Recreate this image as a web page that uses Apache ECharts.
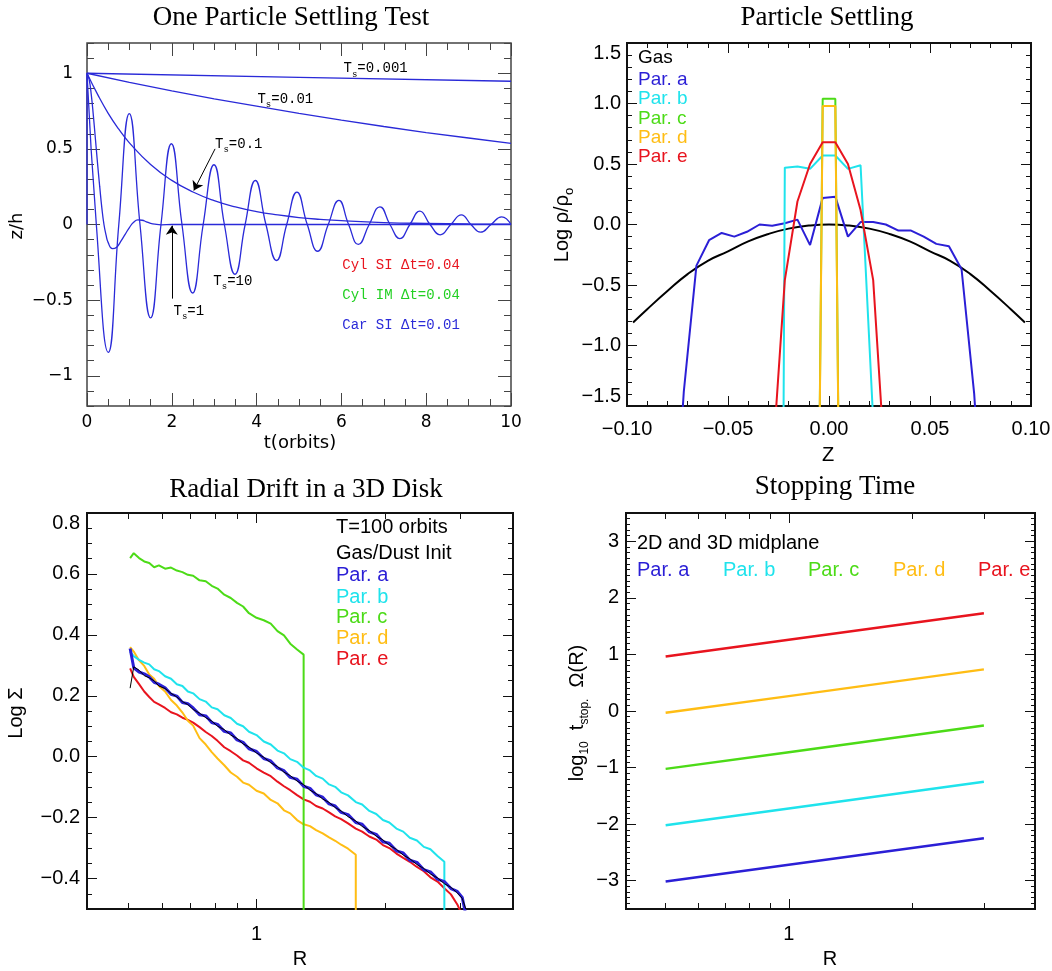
<!DOCTYPE html>
<html><head><meta charset="utf-8">
<script src="https://cdn.jsdelivr.net/npm/echarts@6/dist/echarts.min.js"></script>
<style>html,body{margin:0;padding:0;background:#fff}#c{width:1052px;height:971px}</style>
</head><body><div id="c"></div>
<script>
// ---------------- Panel 1 : One Particle Settling Test ----------------
const p1Ts0001 = [[0,1],[5,0.973],[10,0.947]];
const p1Ts001 = [[0,1],[1,0.94],[2,0.883],[3,0.83],[4,0.782],[5,0.735],[6,0.69],[7,0.648],[8,0.608],[9,0.572],[10,0.537]];
const p1Ts01 = [[0,1],[0.25,0.86],[0.5,0.735],[0.75,0.63],[1,0.54],[1.5,0.397],[2,0.292],[2.5,0.215],[3,0.158],[3.5,0.116],[4,0.085],[4.5,0.063],[5,0.046],[5.5,0.034],[6,0.025],[7,0.013],[8,0.007],[9,0.004],[10,0.002]];
const p1Ts1 = [[0,1],[0.05,0.96],[0.1,0.86],[0.15,0.72],[0.2,0.56],[0.25,0.4],[0.3,0.25],[0.35,0.11],[0.4,0.0],[0.45,-0.07],[0.5,-0.12],[0.6,-0.16],[0.7,-0.15],[0.8,-0.11],[0.9,-0.065],[1.0,-0.02],[1.1,0.015],[1.2,0.03],[1.3,0.028],[1.4,0.018],[1.5,0.008],[1.6,0.002],[1.75,-0.002],[2.0,0],[10,0]];
const p1Ts10 = [[0,1],[0.22,0],[0.503,-0.845],[0.75,0],[0.998,0.733],[1.25,0],[1.50,-0.618],[1.745,0],[1.99,0.534],[2.24,0],[2.49,-0.453],[2.74,0],[2.995,0.395],[3.24,0],[3.49,-0.329],[3.73,0],[3.97,0.291],[4.22,0],[4.47,-0.238],[4.71,0],[4.95,0.214],[5.195,0],[5.44,-0.177],[5.69,0],[5.94,0.159],[6.17,0],[6.40,-0.132],[6.655,0],[6.91,0.117],[7.145,0],[7.38,-0.093],[7.615,0],[7.85,0.088],[8.09,0],[8.33,-0.068],[8.58,0],[8.83,0.064],[9.055,0],[9.28,-0.051],[9.53,0],[9.78,0.051],[10,0]];
const p1Edge = [[0,1],[0,0]];
const p1XTicks = [0,2,4,6,8,10];
const p1YTicks = [-1,-0.5,0,0.5,1];
const p1Notes = [
  {t:6.05, z:1.03, text:'{n|T}{s|s}{n|=0.001}', color:'#000'},
  {t:4.02, z:0.826, text:'{n|T}{s|s}{n|=0.01}', color:'#000'},
  {t:3.02, z:0.53, text:'{n|T}{s|s}{n|=0.1}', color:'#000'},
  {t:2.98, z:-0.377, text:'{n|T}{s|s}{n|=10}', color:'#000'},
  {t:2.04, z:-0.574, text:'{n|T}{s|s}{n|=1}', color:'#000'},
  {t:6.02, z:-0.272, text:'{n|Cyl SI \u0394t=0.04}', color:'#e8141e'},
  {t:6.02, z:-0.47, text:'{n|Cyl IM \u0394t=0.04}', color:'#22d022'},
  {t:6.02, z:-0.669, text:'{n|Car SI \u0394t=0.01}', color:'#2a2ad8'}
];
const p1Arrows = [[[3.02,0.50],[2.52,0.225]], [[2.0,-0.49],[2.0,-0.008]]];

// ---------------- Panel 2 : Particle Settling ----------------
const p2Gas = [[-0.097,-0.81],[-0.09,-0.70],[-0.08,-0.55],[-0.07,-0.41],[-0.06,-0.30],[-0.05,-0.222],[-0.04,-0.14],[-0.03,-0.078],[-0.02,-0.034],[-0.01,-0.009],[0,0],[0.01,-0.009],[0.02,-0.034],[0.03,-0.078],[0.04,-0.14],[0.05,-0.222],[0.06,-0.30],[0.07,-0.41],[0.08,-0.55],[0.09,-0.70],[0.097,-0.81]];
const p2ParA = [[-0.078125,-3.0],[-0.071875,-1.38],[-0.065625,-0.34],[-0.059375,-0.13],[-0.053125,-0.07],[-0.046875,-0.10],[-0.040625,-0.06],[-0.034375,0.0],[-0.028125,-0.01],[-0.021875,0.01],[-0.015625,0.04],[-0.009375,-0.17],[-0.003125,0.22],[0.003125,0.23],[0.009375,-0.10],[0.015625,0.02],[0.021875,0.02],[0.028125,0.0],[0.034375,-0.05],[0.040625,-0.05],[0.046875,-0.10],[0.053125,-0.16],[0.059375,-0.18],[0.065625,-0.37],[0.071875,-1.40],[0.078125,-3.0]];
const p2ParB = [[-0.028125,-20],[-0.021875,0.47],[-0.015625,0.48],[-0.009375,0.46],[-0.003125,0.57],[0.003125,0.57],[0.009375,0.46],[0.015625,0.49],[0.021875,-1.62]];
const p2ParC = [[-0.009375,-10],[-0.003125,1.04],[0.003125,1.04],[0.009375,-10]];
const p2ParD = [[-0.009375,-10],[-0.003125,0.98],[0.003125,0.98],[0.009375,-10]];
const p2ParE = [[-0.028125,-2.0],[-0.021875,-0.46],[-0.015625,0.19],[-0.009375,0.50],[-0.003125,0.68],[0.003125,0.68],[0.009375,0.50],[0.015625,0.12],[0.021875,-0.46],[0.028125,-2.1]];
const p2XTicks = [-0.1,-0.05,0,0.05,0.1];
const p2YTicks = [-1.5,-1,-0.5,0,0.5,1,1.5];

// ---------------- Panel 3 : Radial Drift in a 3D Disk ----------------
const p3R = [0.505,0.515,0.53,0.545,0.56,0.575,0.59,0.61,0.63,0.65,0.67,0.69,0.71,0.735,0.76,0.785,0.81,0.84,0.87,0.90,0.93,0.96,1.00,1.04,1.08,1.12,1.16,1.20,1.245,1.29,1.335,1.38,1.43,1.48,1.53,1.58,1.64,1.71,1.77,1.84,1.91,1.98,2.05,2.13,2.21,2.29,2.38,2.47,2.56,2.66,2.76,2.86,2.96,3.04,3.10];
const p3Gas = [0.225,0.295,0.284,0.266,0.259,0.249,0.232,0.224,0.208,0.196,0.181,0.171,0.155,0.143,0.128,0.117,0.100,0.089,0.071,0.060,0.042,0.032,0.012,-0.002,-0.020,-0.032,-0.051,-0.062,-0.080,-0.092,-0.110,-0.121,-0.139,-0.150,-0.167,-0.178,-0.197,-0.211,-0.229,-0.242,-0.261,-0.273,-0.291,-0.304,-0.323,-0.335,-0.354,-0.367,-0.385,-0.398,-0.417,-0.429,-0.447,-0.465,-0.50];
const p3ParA = [0.355,0.292,0.278,0.272,0.262,0.244,0.238,0.226,0.205,0.199,0.178,0.174,0.160,0.138,0.134,0.112,0.106,0.083,0.078,0.055,0.047,0.026,0.017,-0.006,-0.014,-0.037,-0.046,-0.068,-0.074,-0.097,-0.104,-0.125,-0.133,-0.155,-0.162,-0.183,-0.190,-0.216,-0.222,-0.247,-0.255,-0.279,-0.284,-0.309,-0.316,-0.340,-0.347,-0.371,-0.378,-0.402,-0.410,-0.433,-0.442,-0.462,-0.52];
const p3ParB = [0.345,0.330,0.318,0.309,0.303,0.287,0.281,0.264,0.256,0.238,0.232,0.214,0.208,0.189,0.181,0.162,0.156,0.136,0.127,0.108,0.100,0.082,0.071,0.050,0.040,0.020,0.011,-0.008,-0.017,-0.036,-0.045,-0.063,-0.072,-0.091,-0.099,-0.117,-0.127,-0.149,-0.157,-0.178,-0.188,-0.208,-0.216,-0.236,-0.246,-0.266,-0.275,-0.296,-0.304,-0.326,-0.345,null,null,null,null];
const p3ParC = [0.652,0.668,0.652,0.641,0.636,0.622,0.628,0.617,0.621,0.611,0.606,0.597,0.594,0.579,0.576,0.561,0.552,0.532,0.521,0.505,0.493,0.471,0.456,0.448,0.437,0.412,0.398,0.371,0.352,0.335,null,null,null,null,null,null,null,null,null,null,null,null,null,null,null,null,null,null,null,null,null,null,null,null,null];
const p3ParD = [0.360,0.345,0.316,0.298,0.270,0.256,0.232,0.214,0.186,0.168,0.145,0.118,0.102,0.061,0.040,0.015,-0.006,-0.028,-0.052,-0.066,-0.085,-0.092,-0.112,-0.121,-0.142,-0.153,-0.176,-0.186,-0.208,-0.222,-0.228,-0.241,-0.252,-0.265,-0.276,-0.289,-0.302,-0.322,null,null,null,null,null,null,null,null,null,null,null,null,null,null,null,null,null];
const p3ParE = [0.290,0.262,0.238,0.214,0.196,0.180,0.172,0.160,0.146,0.139,0.128,0.121,0.112,0.097,0.081,0.068,0.052,0.031,0.018,0.004,-0.012,-0.020,-0.038,-0.052,-0.064,-0.082,-0.097,-0.110,-0.126,-0.140,-0.148,-0.162,-0.170,-0.183,-0.196,-0.205,-0.219,-0.236,-0.246,-0.262,-0.272,-0.290,-0.300,-0.318,-0.332,-0.345,-0.362,-0.376,-0.396,-0.410,-0.432,-0.452,-0.485,-0.52,null];
const p3Drop = {b:2.76, c:1.29, d:1.71};
const p3XTicks = [0.5,0.6,0.7,0.8,0.9,1,2,3];
const p3XLabels = [1];
const p3YTicks = [-0.4,-0.2,0,0.2,0.4,0.6,0.8];

// ---------------- Panel 4 : Stopping Time ----------------
const p4R = [0.5, 1, 3];
const p4ParA = [-3.012,-2.717,-2.249];
const p4ParB = [-2.02,-1.725,-1.252];
const p4ParC = [-1.023,-0.728,-0.255];
const p4ParD = [-0.032,0.263,0.736];
const p4ParE = [0.965,1.26,1.727];
const p4YTicks = [-3,-2,-1,0,1,2,3];

// ---------------- styling ----------------
const COL = {blue:'#2b1fd6', cyan:'#1fe3ec', green:'#4cdb17', orange:'#ffbd14', red:'#e8141e', black:'#000'};
const P1BLUE = '#2a2ad8';
const F1 = 'DejaVu Sans', FS = 'Liberation Sans', FSERIF = 'Liberation Serif', FMONO = 'Liberation Mono';

function minusFix(d){ return v => (v < -1e-9 ? '\u2212' : '') + Math.abs(v).toFixed(d); }
function minusPlain(v){ return (v < -1e-9 ? '\u2212' : '') + String(Math.abs(Math.round(v*1000)/1000)); }
function steps(a, b, n){ const r=[]; for (let i=0;i<=n;i++) r.push(Math.round((a+(b-a)*i/n)*1e6)/1e6); return r; }

const xAxes = [], yAxes = [];
function axisSet(list, dim, gi, c) {
  const mainIdx = list.length;
  const main = {type: c.type || 'value', gridIndex: gi, min: c.min, max: c.max, show: false,
    axisLine:{show:false,onZero:false}, splitLine:{show:false}};
  if (c.type === 'log') main.logBase = 10;
  list.push(main);
  const posA = dim === 'x' ? 'bottom' : 'left', posB = dim === 'x' ? 'top' : 'right';
  const hmin = c.hmin !== undefined ? c.hmin : c.min, hmax = c.hmax !== undefined ? c.hmax : c.max;
  const mk = (pos, vals, len, label) => ({
    type:'value', gridIndex:gi, position:pos, min:hmin, max:hmax, offset:0,
    axisLine:{show:false, onZero:false}, splitLine:{show:false}, splitArea:{show:false},
    minorTick:{show:false},
    axisTick:{show:true, inside:true, length:len, customValues:vals, lineStyle:{color:c.tickColor||'#111', width:1}},
    axisLabel: label ? Object.assign({show:true, customValues:c.labelVals, showMinLabel:true, showMaxLabel:true, hideOverlap:false, color:'#000'}, label) : {show:false}
  });
  list.push(mk(posA, c.major, c.majLen, c.label));
  list.push(mk(posA, c.minor, c.minLen, null));
  list.push(mk(posB, c.major, c.majLen, null));
  list.push(mk(posB, c.minor, c.minLen, null));
  return mainIdx;
}

const LOG04 = Math.log10(0.4), LOG4 = Math.log10(4);
const x1 = axisSet(xAxes,'x',0,{min:0,max:10,major:p1XTicks,minor:steps(0,10,20),majLen:13,minLen:7,tickColor:'#444',labelVals:p1XTicks,
  label:{fontFamily:F1,fontSize:17,margin:8,formatter:minusPlain}});
const y1 = axisSet(yAxes,'y',0,{min:-1.2,max:1.2,major:p1YTicks,minor:steps(-1.2,1.2,24),majLen:13,minLen:7,tickColor:'#444',labelVals:p1YTicks,
  label:{fontFamily:F1,fontSize:17,margin:14,formatter:minusPlain}});
const x2 = axisSet(xAxes,'x',1,{min:-0.1,max:0.1,major:p2XTicks,minor:steps(-0.1,0.1,20),majLen:10,minLen:5,labelVals:p2XTicks,
  label:{fontFamily:FS,fontSize:20,margin:13,formatter:minusFix(2)}});
const y2 = axisSet(yAxes,'y',1,{min:-1.5,max:1.5,major:p2YTicks,minor:steps(-1.5,1.5,30),majLen:10,minLen:5,labelVals:p2YTicks,
  label:{fontFamily:FS,fontSize:20,margin:6,formatter:minusFix(1),verticalAlignMinLabel:'bottom',verticalAlignMaxLabel:'top'}});
const x3 = axisSet(xAxes,'x',2,{type:'log',min:0.4,max:4,hmin:LOG04,hmax:LOG4,major:p3XLabels.map(Math.log10),minor:p3XTicks.map(Math.log10),majLen:10,minLen:6,
  labelVals:p3XLabels.map(Math.log10),label:{fontFamily:FS,fontSize:20,margin:15,formatter:v=>String(Math.round(Math.pow(10,v)*100)/100)}});
const y3 = axisSet(yAxes,'y',2,{min:-0.5,max:0.8,major:p3YTicks,minor:steps(-0.5,0.8,26),majLen:10,minLen:5,labelVals:p3YTicks,
  label:{fontFamily:FS,fontSize:20,margin:7,formatter:minusFix(1),verticalAlignMaxLabel:'top'}});
const x4 = axisSet(xAxes,'x',3,{type:'log',min:0.4,max:4,hmin:LOG04,hmax:LOG4,major:p3XLabels.map(Math.log10),minor:p3XTicks.map(Math.log10),majLen:10,minLen:6,
  labelVals:p3XLabels.map(Math.log10),label:{fontFamily:FS,fontSize:20,margin:15,formatter:v=>String(Math.round(Math.pow(10,v)*100)/100)}});
const y4 = axisSet(yAxes,'y',3,{min:-3.5,max:3.5,major:p4YTicks,minor:steps(-3.5,3.5,70),majLen:10,minLen:4,labelVals:p4YTicks,
  label:{fontFamily:FS,fontSize:20,margin:7,formatter:minusPlain}});

function line(data, color, xi, yi, width, extra) {
  return Object.assign({type:'line', data, xAxisIndex:xi, yAxisIndex:yi, showSymbol:false, symbol:'none',
    lineStyle:{color, width}, itemStyle:{color}, silent:true, clip:true, animation:false, connectNulls:false}, extra||{});
}
function p3Series(vals, drop) {
  const d = [];
  p3R.forEach((r,i) => { if (vals[i] !== null) d.push([r, vals[i]]); });
  if (drop) d.push([drop, -0.6]);
  return d;
}

const series = [];
const s1 = line(p1Ts0001, P1BLUE, x1, y1, 1.3);
s1.markPoint = {silent:true, animation:false, data: p1Notes.map(n => ({coord:[n.t,n.z], symbol:'circle', symbolSize:0,
  label:{show:true, position:'right', distance:0, formatter:n.text,
    rich:{n:{fontFamily:FMONO,fontSize:14,color:n.color,lineHeight:20,verticalAlign:'middle'},
          s:{fontFamily:FMONO,fontSize:9,color:n.color,lineHeight:9,verticalAlign:'bottom'}}}}))};
s1.markLine = {silent:true, animation:false, symbol:['none','arrow'], symbolSize:9, label:{show:false},
  lineStyle:{color:'#000', width:1, type:'solid'}, data: p1Arrows.map(a => [{coord:a[0]},{coord:a[1]}])};
series.push(s1);
series.push(line(p1Ts001, P1BLUE, x1, y1, 1.3));
series.push(line(p1Ts01, P1BLUE, x1, y1, 1.3, {smooth:true}));
series.push(line(p1Ts1, P1BLUE, x1, y1, 1.3, {smooth:true}));
series.push(line(p1Ts10, P1BLUE, x1, y1, 1.3, {smooth:true}));
series.push(line(p1Edge, P1BLUE, x1, y1, 1.3));
series.push(line(p2Gas, COL.black, x2, y2, 2, {smooth:true}));
series.push(line(p2ParA, COL.blue, x2, y2, 2));
series.push(line(p2ParB, COL.cyan, x2, y2, 2));
series.push(line(p2ParC, COL.green, x2, y2, 2));
series.push(line(p2ParD, COL.orange, x2, y2, 2));
series.push(line(p2ParE, COL.red, x2, y2, 2));
series.push(line(p3Series(p3ParE), COL.red, x3, y3, 2));
series.push(line(p3Series(p3ParD, p3Drop.d), COL.orange, x3, y3, 2));
series.push(line(p3Series(p3ParC, p3Drop.c), COL.green, x3, y3, 2));
series.push(line(p3Series(p3ParB, p3Drop.b), COL.cyan, x3, y3, 2));
series.push(line(p3Series(p3ParA), COL.blue, x3, y3, 3));
series.push(line(p3Series(p3Gas), COL.black, x3, y3, 1));
[[p4ParA,COL.blue],[p4ParB,COL.cyan],[p4ParC,COL.green],[p4ParD,COL.orange],[p4ParE,COL.red]].forEach(([v,c]) => {
  series.push(line(p4R.map((r,i)=>[r,v[i]]), c, x4, y4, 2.5));
});

function T(x, y, text, o) {
  o = o || {};
  const el = {type:'text', x, y, silent:true, style:{text, fontFamily:o.font||FS, fontSize:o.size||20, fill:o.color||'#000',
    align:o.align||'left', verticalAlign:'middle'}};
  if (o.rot) el.rotation = Math.PI/2;
  if (o.rich) el.style.rich = o.rich;
  return el;
}
const subRich = (size, sub) => ({s:{fontSize:sub, fontFamily:FS, lineHeight:sub, verticalAlign:'bottom'}, m:{fontSize:size, fontFamily:FS, lineHeight:size+8, verticalAlign:'middle'}});
const graphics = [
  T(291, 18, 'One Particle Settling Test', {font:FSERIF, size:27, align:'center'}),
  T(827, 18, 'Particle Settling', {font:FSERIF, size:27, align:'center'}),
  T(306, 490, 'Radial Drift in a 3D Disk', {font:FSERIF, size:27, align:'center'}),
  T(835, 487, 'Stopping Time', {font:FSERIF, size:27, align:'center'}),
  T(17, 226, 'z/h', {font:F1, size:18, align:'center', rot:true}),
  T(300, 443, 't(orbits)', {font:F1, size:18, align:'center'}),
  T(562, 225, '{m|Log \u03c1/\u03c1}{s|o}', {align:'center', rot:true, rich:subRich(20,13)}),
  T(828, 455, 'Z', {align:'center'}),
  T(16, 713, 'Log \u03a3', {align:'center', rot:true}),
  T(300, 959, 'R', {align:'center'}),
  T(577, 713, '{m|log}{s|10}{m|  t}{s|stop.}{m|  \u03a9(R)}', {align:'center', rot:true, rich:subRich(20,12)}),
  T(830, 959, 'R', {align:'center'}),
  T(638, 58, 'Gas', {size:19}),
  T(638, 80, 'Par. a', {size:19, color:COL.blue}),
  T(638, 99, 'Par. b', {size:19, color:COL.cyan}),
  T(638, 119, 'Par. c', {size:19, color:COL.green}),
  T(638, 138, 'Par. d', {size:19, color:COL.orange}),
  T(638, 157, 'Par. e', {size:19, color:COL.red}),
  T(336, 527, 'T=100 orbits'),
  T(336, 553, 'Gas/Dust Init'),
  T(336, 575, 'Par. a', {color:COL.blue}),
  T(336, 597, 'Par. b', {color:COL.cyan}),
  T(336, 617, 'Par. c', {color:COL.green}),
  T(336, 638, 'Par. d', {color:COL.orange}),
  T(336, 659, 'Par. e', {color:COL.red}),
  T(637, 543, '2D and 3D midplane'),
  T(637, 570, 'Par. a', {color:COL.blue}),
  T(723, 570, 'Par. b', {color:COL.cyan}),
  T(808, 570, 'Par. c', {color:COL.green}),
  T(893, 570, 'Par. d', {color:COL.orange}),
  T(978, 570, 'Par. e', {color:COL.red})
];

const gridBase = {show:true, backgroundColor:'transparent', containLabel:false, outerBoundsMode:'none'};
const option = {
  animation:false,
  backgroundColor:'#fff',
  grid:[
    Object.assign({left:87, top:43, width:424, height:363, borderColor:'#444', borderWidth:1.5}, gridBase),
    Object.assign({left:627, top:43, width:404, height:363, borderColor:'#111', borderWidth:2}, gridBase),
    Object.assign({left:87, top:513, width:426, height:396, borderColor:'#111', borderWidth:2}, gridBase),
    Object.assign({left:626, top:513, width:409, height:396, borderColor:'#111', borderWidth:2}, gridBase)
  ],
  xAxis:xAxes, yAxis:yAxes, series, graphic:{elements:graphics}
};
const chart = echarts.init(document.getElementById('c'), null, {renderer:'canvas'});
chart.setOption(option);
</script></body></html>
